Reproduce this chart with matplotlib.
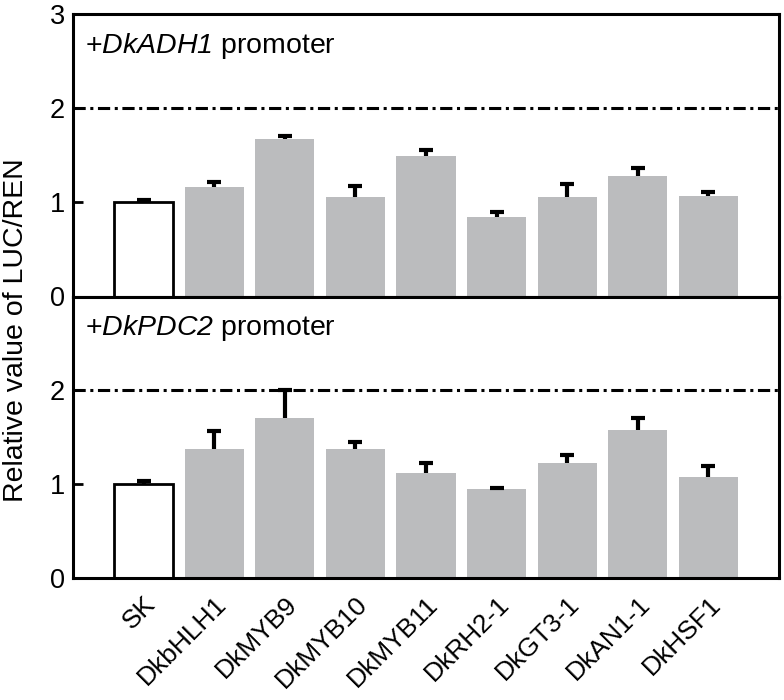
import matplotlib
matplotlib.use("Agg")
import matplotlib.pyplot as plt
import numpy as np

categories = ["SK", "DkbHLH1", "DkMYB9", "DkMYB10", "DkMYB11",
              "DkRH2-1", "DkGT3-1", "DkAN1-1", "DkHSF1"]
adh1_values = [1.00, 1.16, 1.67, 1.06, 1.49, 0.84, 1.06, 1.28, 1.07]
adh1_errors = [0.03, 0.06, 0.03, 0.11, 0.07, 0.06, 0.14, 0.085, 0.045]
pdc2_values = [1.00, 1.38, 1.71, 1.38, 1.12, 0.95, 1.23, 1.58, 1.08]
pdc2_errors = [0.03, 0.19, 0.29, 0.07, 0.105, 0.01, 0.085, 0.13, 0.11]
panel_labels = ["DkADH1", "DkPDC2"]
threshold = 2

plt.rcParams['font.family'] = ['Liberation Sans', 'DejaVu Sans']
plt.rcParams['mathtext.fontset'] = 'custom'
plt.rcParams['mathtext.rm'] = 'Liberation Sans:italic'
plt.rcParams['mathtext.it'] = 'Liberation Sans:italic'

fs = 19.5
fig = plt.figure(figsize=(7.84, 7.0), dpi=100)
left, right = 73/784, 779/784
top = 1 - 14/700
mid = 1 - 296.5/700
bot = 1 - 578/700
ax1 = fig.add_axes([left, mid, right-left, top-mid])
ax2 = fig.add_axes([left, bot, right-left, mid-bot], sharex=ax1)

x = np.arange(len(categories))
grey = '#bbbcbe'
width = 0.84

for ax, vals, errs, lab, yticks in [(ax1, adh1_values, adh1_errors, panel_labels[0], [0, 1, 2, 3]),
                                     (ax2, pdc2_values, pdc2_errors, panel_labels[1], [0, 1, 2])]:
    colors = ['white'] + [grey]*(len(categories)-1)
    edges = ['black'] + [grey]*(len(categories)-1)
    lws = [2.0] + [0]*(len(categories)-1)
    ax.bar(x, vals, width=width, color=colors, edgecolor=edges, linewidth=lws, zorder=2)
    eb = ax.errorbar(x, vals, yerr=[np.zeros(len(vals)), errs], fmt='none', ecolor='black',
                     elinewidth=3.0, capsize=5, capthick=3.0, zorder=3)
    eb[1][0].set_visible(False)
    ax.axhline(threshold, color='black', lw=2.2, linestyle=(0, (4, 1.5, 1, 1.5)), zorder=1)
    ax.set_ylim(0, 3)
    ax.set_xlim(-1, 9)
    ax.set_yticks(yticks)
    ax.tick_params(axis='both', direction='in', length=7, width=2.0, labelsize=fs)
    ax.tick_params(axis='y', pad=6)
    for s in ax.spines.values():
        s.set_linewidth(2.2)
    ax.text(0.017, 0.94, '+$\\mathrm{' + lab + '}$ promoter', transform=ax.transAxes,
            ha='left', va='top', fontsize=20.5)

ax1.tick_params(axis='x', labelbottom=False)
ax2.set_xticks(x)
ax2.set_xticklabels(categories, rotation=45, ha='right', va='top', rotation_mode='anchor', fontsize=19)
ax2.tick_params(axis='x', pad=10)

fig.text(0.004, 1 - 330/700, 'Relative value of LUC/REN', rotation=90, ha='left', va='center', fontsize=20.5)

fig.savefig('out.png', dpi=100)
